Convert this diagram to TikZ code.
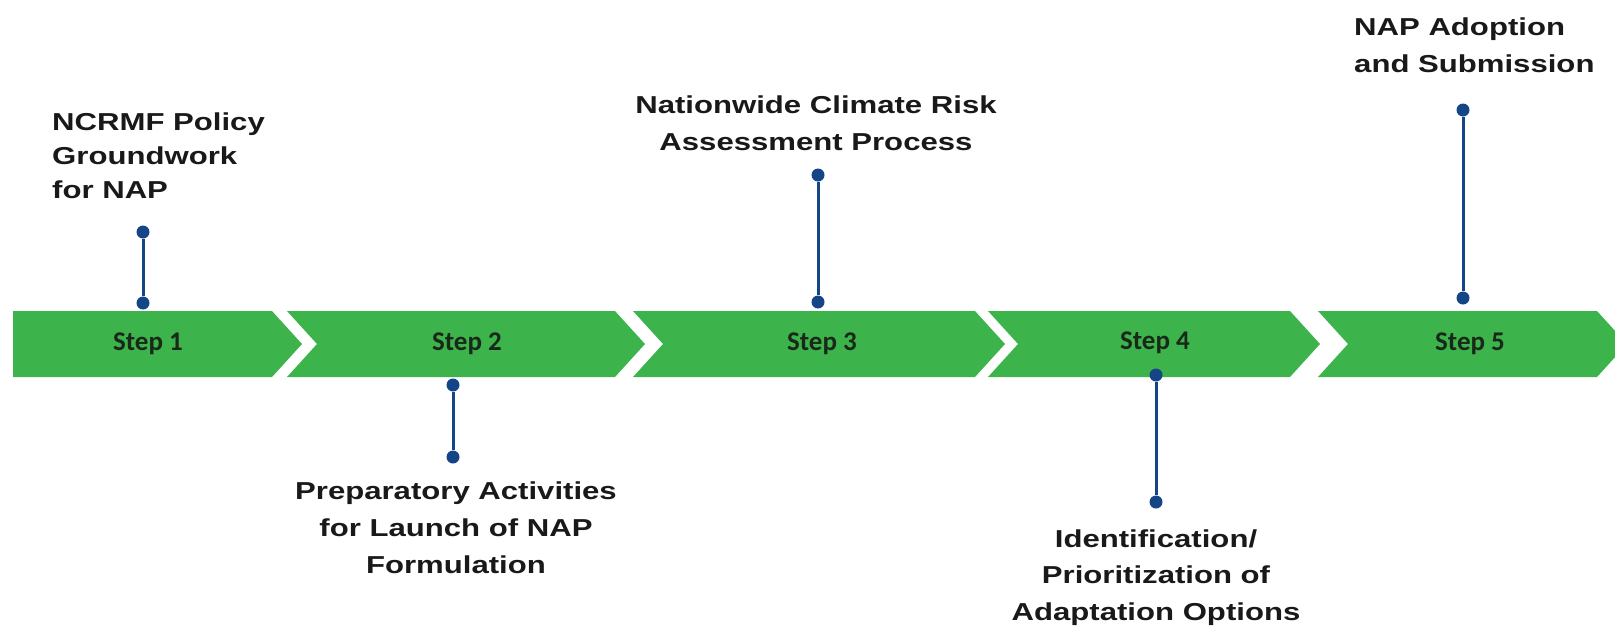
\documentclass[tikz,border=0pt]{standalone}
\usepackage{fontspec}
\newfontfamily\labfont[FakeStretch=1.27]{Liberation Sans}
\newfontfamily\stepfont{Carlito}
\definecolor{bandgreen}{RGB}{60,180,75}
\definecolor{pinblue}{RGB}{20,70,135}
\definecolor{steptext}{RGB}{25,40,25}
\definecolor{labtext}{RGB}{25,25,25}
\begin{document}
\begin{tikzpicture}[x=1pt,y=-1pt,
  chev/.style={fill=bandgreen,draw=none},
  steplabel/.style={font=\stepfont\bfseries\fontsize{27}{30}\selectfont,text=steptext,inner sep=0pt},
  lab/.style={font=\labfont\bfseries\fontsize{24.5}{37}\selectfont,text=labtext,inner sep=0pt},
  pin/.style={circle,fill=pinblue,minimum size=13pt,inner sep=0pt},
  stem/.style={draw=pinblue,line width=3pt}]
\useasboundingbox (0,0) rectangle (1615,630);
\clip (0,0) rectangle (1615,630);
% chevrons
\fill[chev] (13,311) -- (272,311) -- (302,344) -- (272,377) -- (13,377) -- cycle;
\fill[chev] (287,311) -- (615,311) -- (645,344) -- (615,377) -- (287,377) -- (317,344) -- cycle;
\fill[chev] (633,311) -- (975,311) -- (1005,344) -- (975,377) -- (633,377) -- (663,344) -- cycle;
\fill[chev] (988,311) -- (1290,311) -- (1320,344) -- (1290,377) -- (988,377) -- (1018,344) -- cycle;
\fill[chev] (1318,311) -- (1597,311) -- (1627,344) -- (1597,377) -- (1318,377) -- (1348,344) -- cycle;
% step labels
\node[steplabel] (s1) at (148,344) {Step 1};
\node[steplabel] (s2) at (467,344) {Step 2};
\node[steplabel] (s3) at (822,344) {Step 3};
\node[steplabel] (s4) at (1155,343) {Step 4};
\node[steplabel] (s5) at (1470,344) {Step 5};
% pins
\node[pin] (p1a) at (143,232) {};
\node[pin] (p1b) at (143,303) {};
\node[pin] (p2a) at (453,385) {};
\node[pin] (p2b) at (453,457) {};
\node[pin] (p3a) at (818,175) {};
\node[pin] (p3b) at (818,302) {};
\node[pin] (p4a) at (1156,375) {};
\node[pin] (p4b) at (1156,502) {};
\node[pin] (p5a) at (1463,110) {};
\node[pin] (p5b) at (1463,298) {};
\draw[stem] (p1a) -- (p1b);
\draw[stem] (p2a) -- (p2b);
\draw[stem] (p3a) -- (p3b);
\draw[stem] (p4a) -- (p4b);
\draw[stem] (p5a) -- (p5b);
% text labels (base anchor = baseline of last line)
\node[lab,align=left,anchor=base west,font=\labfont\bfseries\fontsize{24.5}{34}\selectfont] (t1) at (52,198) {NCRMF Policy\\Groundwork\\for NAP};
\node[lab,align=center,anchor=base] (t2) at (456,573) {Preparatory Activities\\for Launch of NAP\\Formulation};
\node[lab,align=center,anchor=base] (t3) at (816,150) {Nationwide Climate Risk\\Assessment Process};
\node[lab,align=center,anchor=base,font=\labfont\bfseries\fontsize{24.5}{36.5}\selectfont] (t4) at (1156,620) {Identification/\\Prioritization of\\Adaptation Options};
\node[lab,align=left,anchor=base west] (t5) at (1354,72) {NAP Adoption\\and Submission};
\end{tikzpicture}
\end{document}
